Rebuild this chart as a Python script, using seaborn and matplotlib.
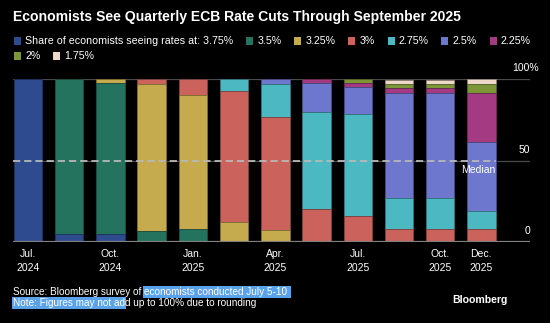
import matplotlib
matplotlib.use("Agg")
import matplotlib.pyplot as plt
import matplotlib.patches as mpatches
import matplotlib.colors as mcolors
import numpy as np
import pandas as pd
import seaborn as sns

# ---------------- data ----------------
meetings = ["Jul. 2024", "Sep. 2024", "Oct. 2024", "Dec. 2024", "Jan. 2025", "Mar. 2025",
            "Apr. 2025", "Jun. 2025", "Jul. 2025", "Sep. 2025", "Oct. 2025", "Dec. 2025"]
rate_labels = ["3.75%", "3.5%", "3.25%", "3%", "2.75%", "2.5%", "2.25%", "2%", "1.75%"]
share_375 = [100, 5, 5, 0, 0, 0, 0, 0, 0, 0, 0, 0]
share_350 = [0, 95, 92.5, 7, 8, 0, 0, 0, 0, 0, 0, 0]
share_325 = [0, 0, 2.5, 90, 82, 12.5, 7.5, 0, 0, 0, 0, 0]
share_300 = [0, 0, 0, 3, 10, 80, 69, 20.5, 15.8, 8.2, 8.2, 8.2]
share_275 = [0, 0, 0, 0, 0, 7.5, 20.7, 59, 63, 18.6, 18.6, 10.8]
share_250 = [0, 0, 0, 0, 0, 0, 2.8, 17.8, 16, 64.8, 64.8, 42.5]
share_225 = [0, 0, 0, 0, 0, 0, 0, 2.7, 2.6, 2.6, 2.6, 30]
share_200 = [0, 0, 0, 0, 0, 0, 0, 0, 2.6, 3, 3, 5.7]
share_175 = [0, 0, 0, 0, 0, 0, 0, 0, 0, 2.3, 2.3, 2.7]
tick_labels = ["Jul.\n2024", "Oct.\n2024", "Jan.\n2025", "Apr.\n2025",
               "Jul.\n2025", "Oct.\n2025", "Dec.\n2025"]
y_ticks = [0, 50, 100]
y_tick_labels = ["0", "50", "100%"]
median_level = 50

title = "Economists See Quarterly ECB Rate Cuts Through September 2025"
legend_prefix = "Share of economists seeing rates at: "
colors = ["#2f4b8f", "#23735f", "#c6ab4e", "#cb635c", "#4cb8c2",
          "#6c77cd", "#a33a82", "#7b9537", "#eed9c9"]

series = [share_375, share_350, share_325, share_300, share_275,
          share_250, share_225, share_200, share_175]

# ---------------- style ----------------
sns.set_style("dark", {"axes.facecolor": "black", "figure.facecolor": "black"})
plt.rcParams["font.family"] = ["Liberation Sans", "DejaVu Sans"]
plt.rcParams["text.color"] = "white"

W, H = 550, 323
fig = plt.figure(figsize=(W / 100, H / 100), dpi=100)
fig.patch.set_facecolor("black")
ax = fig.add_axes([13 / W, 1 - 242 / H, (530 - 13) / W, (242 - 79) / H])
ax.set_facecolor("black")

df = pd.DataFrame({"meeting": meetings})
for lab, vals in zip(rate_labels, series):
    df[lab] = vals
cum = df[rate_labels].cumsum(axis=1)

# stacked bars: draw cumulative totals from the top layer down
for lab, col in reversed(list(zip(rate_labels, colors))):
    edge = mcolors.to_hex(np.array(mcolors.to_rgb(col)) * 0.6)
    sns.barplot(x=df["meeting"], y=cum[lab], order=meetings, color=col,
                width=0.69, edgecolor=edge, linewidth=0.6, saturation=1,
                ax=ax, zorder=2)

ax.set_xlim(-0.364, 12.18)
ax.set_ylim(0, 100)

for yv in y_ticks:
    ax.axhline(yv, color="#4a4a4a" if yv else "#808080",
               lw=0.9 if yv else 1.6, zorder=1 if yv else 5)

# median dashed line
ax.plot([-0.364, 11.345], [median_level, median_level], color="#b8b8b8",
        lw=1.3, dashes=(4, 2.2), zorder=6)
ax.text(11.345, median_level - 2.5, "Median", ha="right", va="top",
        fontsize=7.5, color="white", zorder=7)

# y labels on the right, above their gridlines
for yv, lab in zip(y_ticks, y_tick_labels):
    xr = 1.0 if lab != "100%" else 1.0 + 9 / (530 - 13)
    ax.text(xr, yv + 3.5, lab, transform=ax.get_yaxis_transform(),
            ha="right", va="bottom", fontsize=7.5, color="white")

tick_pos = [meetings.index(t.replace("\n", " ")) for t in tick_labels]
ax.set_xticks(tick_pos)
ax.set_xticklabels(tick_labels, fontsize=7.5, color="white", linespacing=1.55)
ax.tick_params(axis="x", length=0, pad=5)
ax.set_yticks([])
ax.set_xlabel("")
ax.set_ylabel("")
for s in ax.spines.values():
    s.set_visible(False)
ax.grid(False)

# title
fig.text(13 / W, 1 - 17 / H, title, fontsize=10.1, fontweight="bold",
         color="white", va="center", ha="left")

# manual flowing legend
renderer = fig.canvas.get_renderer()
rows_items = [list(range(0, 7)), [7, 8]]
row_y = [41, 56]
sq = 7
for row, yc in zip(rows_items, row_y):
    x = 14
    for i in row:
        fig.add_artist(mpatches.Rectangle((x / W, 1 - (yc + sq / 2) / H), sq / W, sq / H,
                                          transform=fig.transFigure, facecolor=colors[i],
                                          edgecolor="none"))
        label = (legend_prefix + rate_labels[i]) if i == 0 else rate_labels[i]
        t = fig.text((x + sq + 4) / W, 1 - yc / H, label, fontsize=7.7,
                     color="white", va="center", ha="left")
        bb = t.get_window_extent(renderer)
        x = bb.x1 + 13

# footer with highlight
hl = "#5aa2ea"
def pieces(parts, x0, yc):
    x = x0
    for txt, hi in parts:
        kw = {}
        if hi:
            kw["bbox"] = dict(facecolor=hl, edgecolor="none", pad=0.8)
        t = fig.text(x / W, 1 - yc / H, txt, fontsize=7.2, color="white",
                     va="center", ha="left", **kw)
        bb = t.get_window_extent(renderer)
        x = bb.x1

pieces([("Source: Bloomberg survey of ", False),
        ("economists conducted July 5-10 ", True)], 13, 292)
pieces([("Note: Figures may not ad", True),
        ("d up to 100% due to rounding", False)], 13, 303)

fig.text(508 / W, 1 - 300 / H, "Bloomberg", fontsize=7.6, fontweight="bold",
         color="white", va="center", ha="right")

fig.savefig("out.png", dpi=100, facecolor="black")
